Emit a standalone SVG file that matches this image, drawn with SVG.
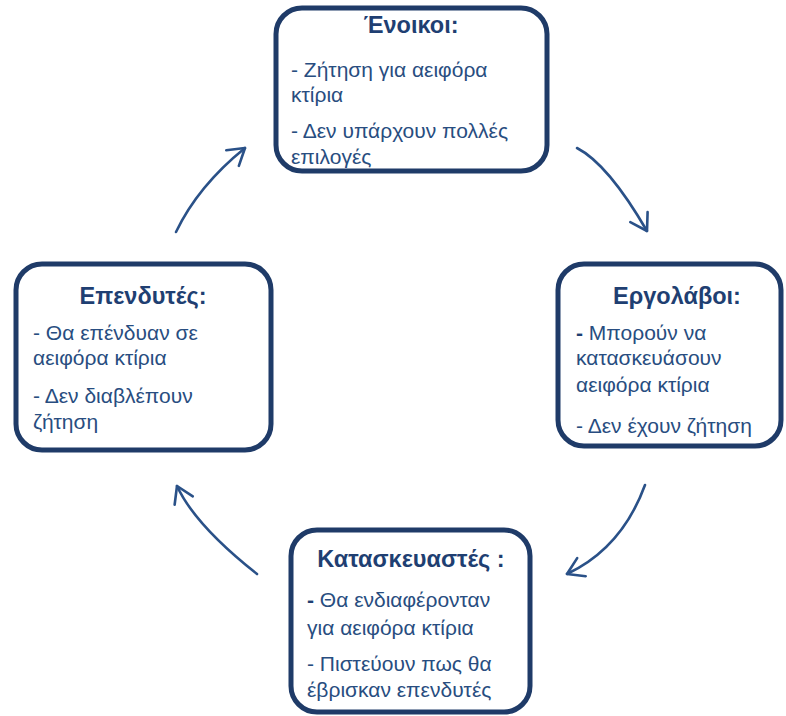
<svg xmlns="http://www.w3.org/2000/svg" width="786" height="716" viewBox="0 0 786 716">
<style>
.box{fill:#ffffff;stroke:#1F3B68;stroke-width:5}
.t{font-family:"Liberation Sans","Noto Sans",Arial,sans-serif;font-size:23.5px;font-weight:bold;fill:#1F3F72;text-anchor:middle}
.b{font-family:"Liberation Sans","Noto Sans",Arial,sans-serif;font-size:21px;fill:#284D80}
.bd{font-weight:bold;fill:#1F3F72}
.arr{fill:none;stroke:#2A5188;stroke-width:2.6;stroke-linecap:round}
</style>
<defs>
<marker id="ah" markerUnits="userSpaceOnUse" markerWidth="22" markerHeight="26" viewBox="0 0 22 26" refX="19" refY="13" orient="auto">
<path d="M3 3 L19 13 L3 23" fill="none" stroke="#2A5188" stroke-width="2.6" stroke-linecap="round" stroke-linejoin="round"/>
</marker>
</defs>
<rect width="786" height="716" fill="#ffffff"/>
<g id="connectors">
<path class="arr" d="M577 148 Q608 164 647 231" marker-end="url(#ah)"/>
<path class="arr" d="M645 485 Q622 548 567 574" marker-end="url(#ah)"/>
<path class="arr" d="M257 574 Q195 525 177 486" marker-end="url(#ah)"/>
<path class="arr" d="M176 232 Q198 186 245 148" marker-end="url(#ah)"/>
</g>
<g id="enoikoi">
<rect class="box" x="276" y="8" width="271" height="163" rx="26"/>
<text class="t" x="411" y="33">Ένοικοι:</text>
<text class="b" x="291" y="77">- Ζήτηση για αειφόρα</text>
<text class="b" x="291" y="102">κτίρια</text>
<text class="b" x="291" y="138">- Δεν υπάρχουν πολλές</text>
<text class="b" x="291" y="164">επιλογές</text>
</g>
<g id="ergolavoi">
<rect class="box" x="558" y="264" width="223" height="182" rx="26"/>
<text class="t" x="677" y="304">Εργολάβοι:</text>
<text class="b" x="576" y="340"><tspan class="bd">-</tspan> Μπορούν να</text>
<text class="b" x="576" y="365">κατασκευάσουν</text>
<text class="b" x="576" y="392">αειφόρα κτίρια</text>
<text class="b" x="576" y="433">- Δεν έχουν ζήτηση</text>
</g>
<g id="kataskevastes">
<rect class="box" x="291" y="530" width="239" height="182" rx="26"/>
<text class="t" x="411" y="567">Κατασκευαστές :</text>
<text class="b" x="307" y="607"><tspan class="bd">-</tspan> Θα ενδιαφέρονταν</text>
<text class="b" x="307" y="635">για αειφόρα κτίρια</text>
<text class="b" x="307" y="671">- Πιστεύουν πως θα</text>
<text class="b" x="307" y="697">έβρισκαν επενδυτές</text>
</g>
<g id="ependytes">
<rect class="box" x="16" y="264" width="255" height="186" rx="26"/>
<text class="t" x="143" y="304">Επενδυτές:</text>
<text class="b" x="33" y="340">- Θα επένδυαν σε</text>
<text class="b" x="33" y="365">αειφόρα κτίρια</text>
<text class="b" x="33" y="403">- Δεν διαβλέπουν</text>
<text class="b" x="33" y="429">ζήτηση</text>
</g>
</svg>
